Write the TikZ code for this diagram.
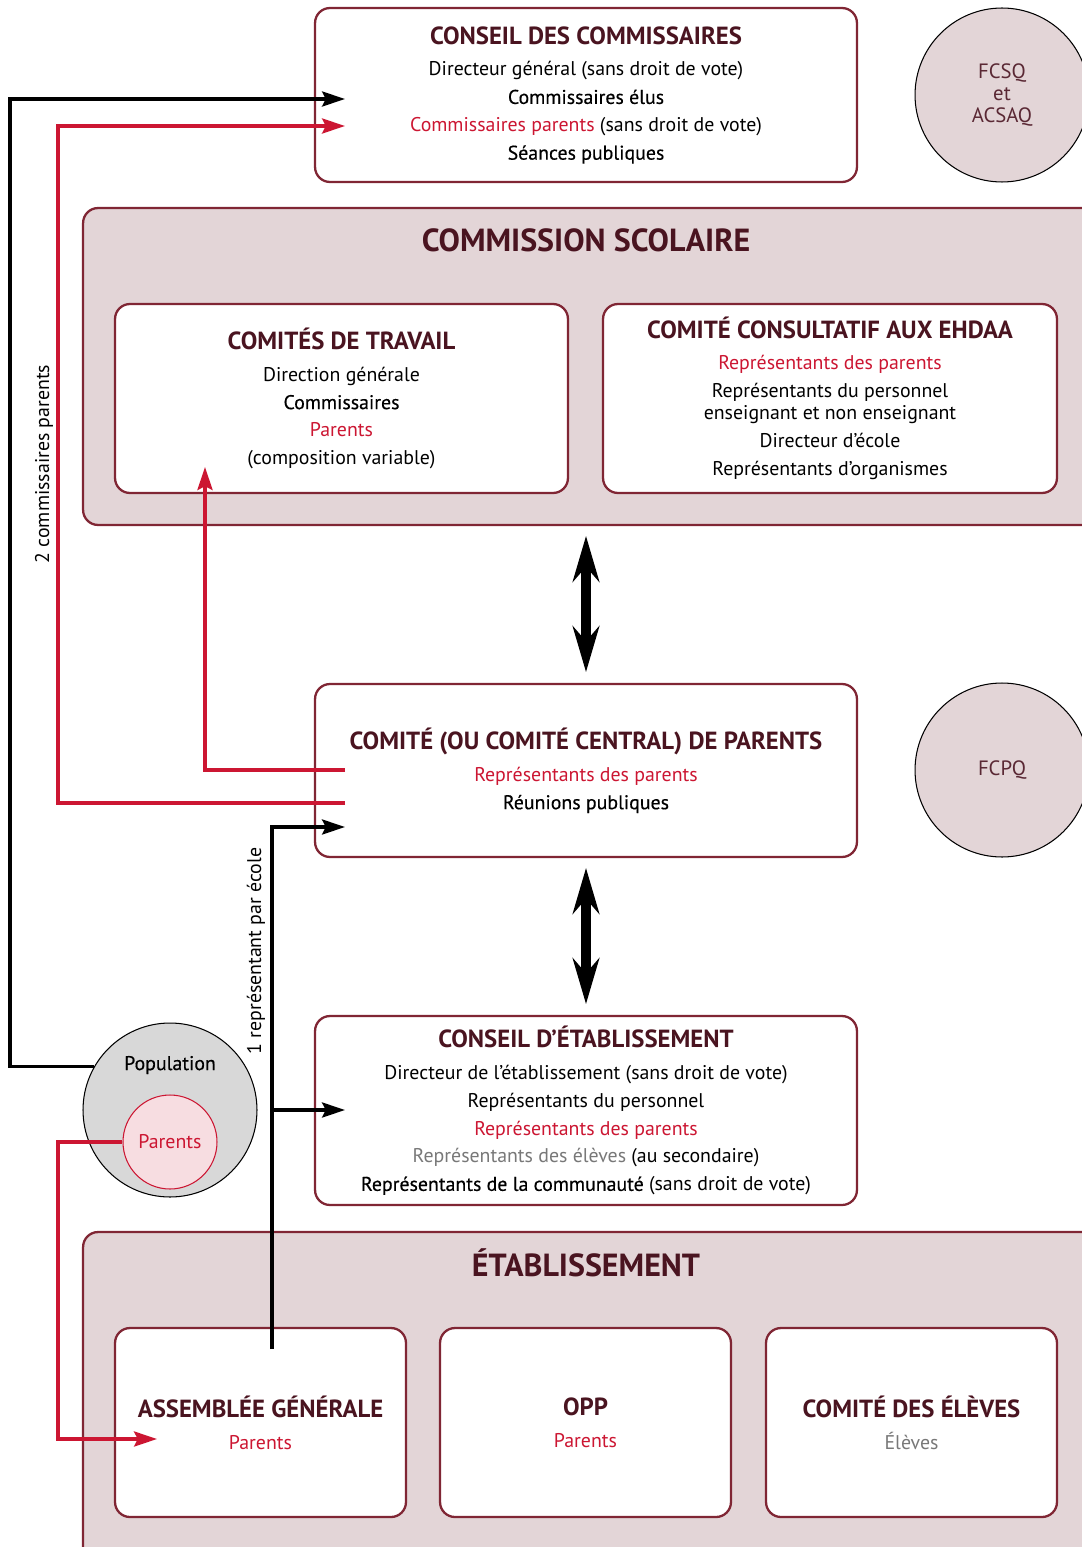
\documentclass[tikz,border=0pt]{standalone}
\usepackage{fontspec}
\setmainfont{PT Sans}
\newfontfamily\medfont[FakeBold=0.4]{PT Sans}
\usetikzlibrary{arrows.meta}
\definecolor{bordeau}{RGB}{128,38,52}
\definecolor{titre}{RGB}{74,20,32}
\definecolor{rose}{RGB}{227,213,215}
\definecolor{rouge}{RGB}{204,22,50}
\definecolor{gris}{RGB}{120,120,120}
\definecolor{grispop}{RGB}{216,216,216}
\definecolor{roseclair}{RGB}{247,221,225}
\definecolor{cercle}{RGB}{90,40,52}
\newcommand{\ttl}[1]{{\bfseries\color{titre}\fontsize{14.1}{16}\selectfont #1}}
\newcommand{\grtitre}[1]{{\bfseries\color{titre}\fontsize{18.2}{22}\selectfont #1}}
\newcommand{\rge}[1]{\textcolor{rouge}{#1}}
\newcommand{\med}[1]{{\medfont #1}}

\tikzset{
	boite/.style={draw=bordeau,line width=1.3pt,rounded corners=8.5pt,fill=white,align=center,inner sep=0pt},
	groupe/.style={boite,fill=rose},
	rond/.style={circle,draw=black,line width=0.6pt,fill=rose,minimum size=3.48cm,inner sep=0pt,align=center,text=cercle},
	lien/.style={line width=2pt,-{Stealth[length=13pt,width=8.5pt,inset=2pt]}},
	lienrouge/.style={lien,draw=rouge,-{Stealth[length=13pt,width=8.5pt,inset=2pt,fill=rouge]}},
	dbl/.style={line width=6pt,{Stealth[length=26pt,width=15pt]}-{Stealth[length=26pt,width=15pt]}}
}

\begin{document}
\begin{tikzpicture}[x=0.02cm,y=-0.02cm,font=\fontsize{11.3}{15.87}\selectfont]
	\useasboundingbox (0,0) rectangle (1081,1547);

	\node[boite,minimum width=10.84cm,minimum height=3.48cm] (cdc) at (586,95)
		{\ttl{CONSEIL DES COMMISSAIRES}\\[2.3pt]
		Directeur général (sans droit de vote)\\
		\med{Commissaires élus}\\
		\rge{Commissaires parents} (sans droit de vote)\\
		\med{Séances publiques}};
	\node[rond,font=\fontsize{11.8}{12.75}\selectfont] (fcsq) at (1002,95) {FCSQ\\et\\ACSAQ};

	\node[groupe,minimum width=20.34cm,minimum height=6.34cm] (cs) at (591.5,366.5) {};
	\node (cs-titre) at (586,240) {\grtitre{COMMISSION SCOLAIRE}};
	\node[boite,minimum width=9.06cm,minimum height=3.78cm] (ct) at (341.5,398.5)
		{\ttl{COMITÉS DE TRAVAIL}\\[2.3pt]
		Direction générale\\
		\med{Commissaires}\\
		\rge{Parents}\\
		(composition variable)};
	\node[boite,minimum width=9.08cm,minimum height=3.78cm] (ehdaa) at (830,398.5)
		{\ttl{COMITÉ CONSULTATIF AUX EHDAA}\\[1.5pt]
		\rge{Représentants des parents}\\
		Représentants du personnel\\[-2.9pt]
		enseignant et non enseignant\\
		Directeur d’école\\
		Représentants d’organismes};

	\node[boite,minimum width=10.84cm,minimum height=3.46cm] (cp) at (586,770.5)
		{\ttl{COMITÉ (OU COMITÉ CENTRAL) DE PARENTS}\\[2.3pt]
		\rge{Représentants des parents}\\
		\med{Réunions publiques}};
	\node[rond,font=\fontsize{11.8}{14}\selectfont] (fcpq) at (1002,770) {FCPQ};

	\node[boite,minimum width=10.84cm,minimum height=3.78cm] (ce) at (586,1110.5)
		{\ttl{CONSEIL D’ÉTABLISSEMENT}\\[2.3pt]
		Directeur de l’établissement (sans droit de vote)\\
		Représentants du personnel\\
		\rge{Représentants des parents}\\
		\textcolor{gris}{Représentants des élèves} (au secondaire)\\
		\med{Représentants de la communauté} (sans droit de vote)};

	\node[rond,fill=grispop] (pop) at (170,1110) {};
	\node (pop-txt) at (170,1065) {\med{Population}};
	\node[circle,draw=rouge,line width=0.6pt,fill=roseclair,minimum size=1.88cm,inner sep=0pt,text=rouge] (par) at (170,1142) {Parents};

	\node[groupe,minimum width=20.34cm,minimum height=6.66cm] (etab) at (591.5,1398.5) {};
	\node (etab-titre) at (586,1263) {\grtitre{ÉTABLISSEMENT}};
	\node[boite,minimum width=5.82cm,minimum height=3.78cm] (ag) at (260.5,1422.5)
		{\ttl{ASSEMBLÉE GÉNÉRALE}\\[2.3pt] \rge{Parents}};
	\node[boite,minimum width=5.82cm,minimum height=3.78cm] (opp) at (585.5,1422.5)
		{\ttl{OPP}\\[2.3pt] \rge{Parents}};
	\node[boite,minimum width=5.82cm,minimum height=3.78cm] (eleves) at (911.5,1422.5)
		{\ttl{COMITÉ DES ÉLÈVES}\\[2.3pt] \textcolor{gris}{Élèves}};

	\coordinate (cdc-in1) at (345,99);
	\coordinate (cdc-in2) at (345,126);
	\coordinate (g1) at (10,99);
	\coordinate (g2) at (58,126);
	\coordinate (cp-out1) at (345,803);
	\coordinate (cp-out2) at (345,770);
	\coordinate (ct-in) at (205,467);
	\coordinate (cp-in) at (345,827);
	\coordinate (ag-out) at (272,1349);
	\coordinate (fourche) at (272,1110);
	\coordinate (ce-in) at (345,1110);
	\coordinate (g3) at (58,1439);
	\coordinate (ag-in) at (157,1439);

	\draw[lien] (pop.150) -| (g1) -- (cdc-in1);
	\draw[lienrouge] (cp-out1) -| (g2) -- (cdc-in2);
	\draw[lienrouge] (cp-out2) -| (ct-in);
	\draw[lien] (ag-out) |- (cp-in);
	\draw[lien] (fourche) -- (ce-in);
	\draw[lienrouge] (par.west) -| (g3) -- (ag-in);

	\draw[dbl,shorten <=11pt/1.8,shorten >=10pt/1.8] (cp.north) -- (cp.north |- cs.south);
	\draw[dbl,shorten <=10pt/1.8,shorten >=11pt/1.8] (cp.south) -- (cp.south |- ce.north);

	\node[rotate=90] (lab-cdc) at (44,464) {2 commissaires parents};
	\node[rotate=90] (lab-cp) at (256,951) {1 représentant par école};
\end{tikzpicture}
\end{document}
